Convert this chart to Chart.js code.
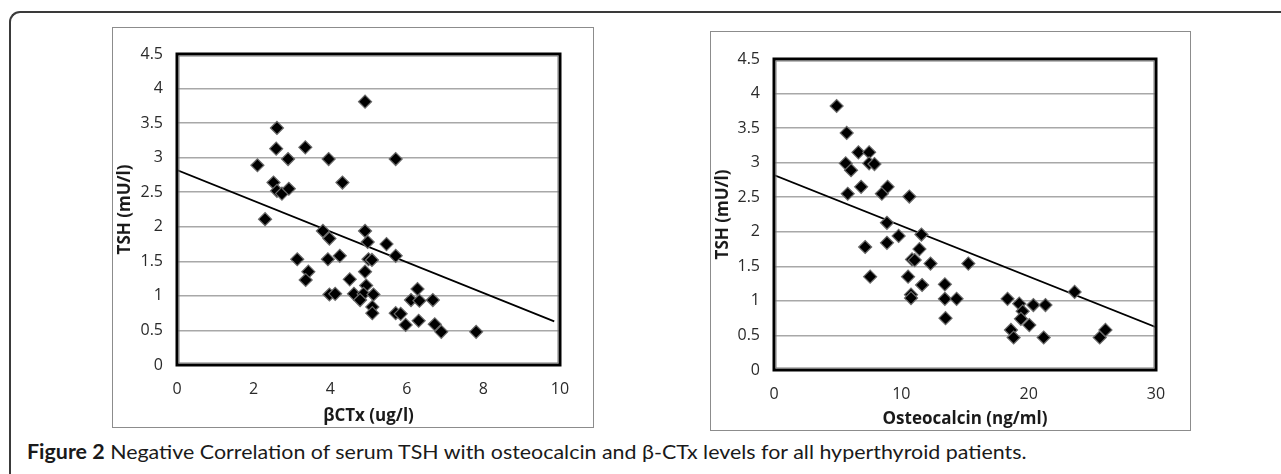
<!DOCTYPE html>
<html>
<head>
<meta charset="utf-8">
<script src="https://cdn.jsdelivr.net/npm/chart.js@4.4.1/dist/chart.umd.min.js"></script>
<style>
    body { margin:0; width:1281px; height:474px; background:#fff; overflow:hidden; position:relative; font-family:"Open Sans", sans-serif; }
    #frame { position:absolute; left:9px; top:11px; width:1320px; height:520px; border-left:2px solid #3a3a3a; border-top:2px solid #3a3a3a; border-top-left-radius:11px; }
    .box { position:absolute; border:1px solid #8c8c8c; background:#fff; }
    .box canvas { display:block; }
    #caption { position:absolute; left:27px; top:439px; font-family:Lato, sans-serif; font-size:20px; color:#1a1a1a; white-space:nowrap; transform-origin:0 0; }
    #caption b { font-weight:700; }
</style>
</head>
<body>
<div id="frame"></div>
<div class="box" style="left:112px; top:27px; width:480px; height:399px;"><canvas id="chart-bctx" width="480" height="399"></canvas></div>
<div class="box" style="left:710px; top:31px; width:479px; height:398px;"><canvas id="chart-oc" width="479" height="398"></canvas></div>
<div id="caption"><b>Figure 2</b> Negative Correlation of serum TSH with osteocalcin and β-CTx levels for all hyperthyroid patients.</div>

<script>
// TSH vs beta-CTx (left panel)
const BCTX_X = [4.91, 2.61, 2.59, 3.35, 2.90, 3.96, 5.71, 2.10, 2.52, 4.32, 2.61, 2.74, 2.92, 2.30,
    3.81, 3.98, 4.91, 4.98, 5.47, 5.71, 4.25, 3.14, 3.94, 5.00, 5.09, 4.91, 3.43, 3.36, 4.51, 4.94,
    3.98, 4.13, 4.62, 4.87, 5.13, 4.78, 5.10, 5.10, 5.71, 5.84, 6.28, 6.11, 6.33, 6.68, 5.97, 6.31,
    6.73, 6.90, 7.81];
const BCTX_TSH = [3.81, 3.43, 3.13, 3.15, 2.98, 2.98, 2.98, 2.89, 2.64, 2.64, 2.52, 2.48, 2.55, 2.11,
    1.94, 1.83, 1.94, 1.78, 1.75, 1.58, 1.58, 1.53, 1.53, 1.53, 1.52, 1.35, 1.35, 1.23, 1.24, 1.15,
    1.02, 1.03, 1.03, 1.03, 1.02, 0.94, 0.84, 0.75, 0.75, 0.74, 1.10, 0.94, 0.93, 0.94, 0.58, 0.64,
    0.59, 0.48, 0.48];
const BCTX_TREND_X = [0, 9.85];
const BCTX_TREND_Y = [2.82, 0.63];

// TSH vs osteocalcin (right panel)
const OC_X = [4.92, 5.71, 6.63, 7.47, 5.63, 7.47, 7.89, 6.05, 5.79, 6.84, 8.47, 8.92, 10.63, 8.87,
    9.79, 11.58, 8.87, 7.16, 11.42, 10.84, 11.05, 12.29, 15.26, 7.55, 10.53, 11.63, 13.42, 10.76,
    10.76, 13.42, 14.34, 13.47, 18.34, 19.26, 20.37, 21.32, 19.53, 19.39, 20.05, 18.61, 18.82,
    21.18, 23.61, 25.58, 26.03];
const OC_TSH = [3.82, 3.43, 3.15, 3.15, 2.99, 2.99, 2.98, 2.89, 2.55, 2.65, 2.55, 2.65, 2.51, 2.13,
    1.94, 1.96, 1.84, 1.78, 1.75, 1.60, 1.59, 1.54, 1.54, 1.35, 1.35, 1.23, 1.24, 1.09, 1.04, 1.03,
    1.03, 0.75, 1.03, 0.96, 0.94, 0.94, 0.85, 0.74, 0.65, 0.58, 0.47, 0.47, 1.13, 0.47, 0.58];
const OC_TREND_X = [0, 30];
const OC_TREND_Y = [2.82, 0.62];

const Y_TITLE = 'TSH (mU/l)';

// thick black frame round the plot area, like the Excel original
const plotFrame = {
    id: 'plotFrame',
    afterDraw(chart) {
        const { ctx, chartArea: a } = chart;
        ctx.save();
        ctx.strokeStyle = '#000';
        ctx.lineWidth = 3;
        ctx.strokeRect(a.left, a.top, a.right - a.left, a.bottom - a.top);
        ctx.strokeStyle = '#777';
        ctx.lineWidth = 1;
        ctx.strokeRect(a.left + 2, a.top + 2, a.right - a.left - 4, a.bottom - a.top - 4);
        ctx.restore();
    }
};

function toPoints(xs, ys) {
    return xs.map((x, i) => ({ x: x, y: ys[i] }));
}

function makeScatter(canvasId, xs, ys, tx, ty, xMax, xStep, xTitle, lay) {
    const tickFont = { family: '"Open Sans", sans-serif', size: 16 };
    const titleFont = { family: '"Open Sans", sans-serif', size: 17, weight: 'bold' };
    return new Chart(document.getElementById(canvasId), {
        type: 'scatter',
        data: {
            datasets: [
                { data: toPoints(xs, ys), pointStyle: 'rectRot', pointRadius: 6.5,
                  backgroundColor: '#000', borderColor: '#6a6a6a', borderWidth: 1.2 },
                { type: 'line', data: toPoints(tx, ty), borderColor: '#000', borderWidth: 1.8,
                  pointRadius: 0, fill: false }
            ]
        },
        options: {
            responsive: false,
            animation: false,
            layout: { padding: { top: lay.top, right: lay.right, left: 0, bottom: 0 } },
            plugins: { legend: { display: false }, tooltip: { enabled: false } },
            scales: {
                x: {
                    type: 'linear', min: 0, max: xMax,
                    ticks: { stepSize: xStep, color: '#2a2a2a', font: tickFont, padding: 15 },
                    grid: { display: false, drawTicks: false },
                    border: { display: false },
                    title: { display: true, text: xTitle, color: '#1a1a1a', font: titleFont, padding: { top: 0, bottom: 1 } },
                    afterFit(s) { s.height = lay.xh; }
                },
                y: {
                    type: 'linear', min: 0, max: 4.5,
                    ticks: { stepSize: 0.5, color: '#2a2a2a', font: tickFont, padding: 14,
                             callback: v => String(Number(v.toFixed(2))) },
                    grid: { color: '#a8a8a8', lineWidth: 1.5, drawTicks: false },
                    border: { display: false },
                    title: { display: true, text: Y_TITLE, color: '#1a1a1a', font: titleFont, padding: { top: 2, bottom: 0 } },
                    afterFit(s) { s.width = lay.yw; }
                }
            }
        },
        plugins: [plotFrame]
    });
}

makeScatter('chart-bctx', BCTX_X, BCTX_TSH, BCTX_TREND_X, BCTX_TREND_Y, 10, 2, 'βCTx (ug/l)',
    { top: 26, right: 33, xh: 62, yw: 64 });
makeScatter('chart-oc', OC_X, OC_TSH, OC_TREND_X, OC_TREND_Y, 30, 10, 'Osteocalcin (ng/ml)',
    { top: 27, right: 34, xh: 60, yw: 63 });

// squeeze the caption to the width of the original line
const cap = document.getElementById('caption');
cap.style.transform = 'scaleX(' + (1000 / cap.scrollWidth) + ')';
</script>
</body>
</html>
